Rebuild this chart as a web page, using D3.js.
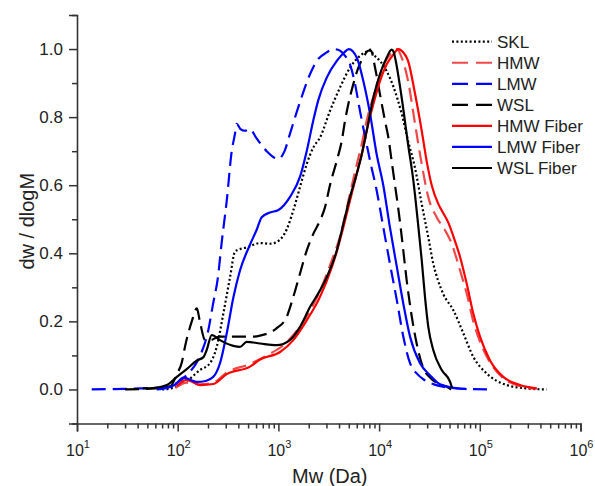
<!DOCTYPE html>
<html>
<head>
<meta charset="utf-8">
<script src="https://cdn.jsdelivr.net/npm/d3@7"></script>
<style>
  body { margin: 0; background: #fff; }
  #chart { width: 595px; height: 486px; }
  svg { display: block; }
</style>
</head>
<body>
<div id="chart"></div>
<script>
// Series names, in legend order
const seriesNames = ['SKL', 'HMW', 'LMW', 'WSL', 'HMW Fiber', 'LMW Fiber', 'WSL Fiber'];

// [Mw (Da), dw/dlogM]
const sklData = [
  [70, 0.0], [90, 0.005], [105, 0.013], [130, 0.03], [166, 0.057], [209, 0.077], [244, 0.125],
  [284, 0.223], [331, 0.33], [371, 0.405], [420, 0.413], [484, 0.417], [657, 0.43], [826, 0.428],
  [962, 0.433], [1208, 0.47], [1406, 0.526], [1637, 0.594], [1910, 0.662], [2222, 0.711],
  [2590, 0.74], [3250, 0.818], [4090, 0.887], [5140, 0.945], [6460, 0.98], [7530, 0.993],
  [8200, 0.998], [8760, 0.985], [10200, 0.965], [11900, 0.935], [13840, 0.89], [16760, 0.81],
  [19400, 0.73], [22750, 0.65], [26500, 0.545], [30800, 0.447], [34500, 0.37], [38500, 0.32],
  [43400, 0.28], [54600, 0.233], [68600, 0.165], [86200, 0.096], [117000, 0.047],
  [185000, 0.013], [292000, 0.003], [461000, 0.0]
];

const hmwData = [
  [95, 0.005], [123, 0.02], [166, 0.015], [226, 0.02], [307, 0.05], [522, 0.075], [765, 0.1],
  [1120, 0.13], [1406, 0.16], [1910, 0.215], [2590, 0.29], [3400, 0.38], [4100, 0.45],
  [5140, 0.575], [5990, 0.66], [6720, 0.72], [7530, 0.79], [8760, 0.86], [10200, 0.925],
  [11900, 0.97], [13840, 0.993], [15000, 1.0], [16760, 0.975], [19400, 0.906], [22750, 0.78],
  [26500, 0.662], [30800, 0.565], [37300, 0.506], [45300, 0.467], [52600, 0.428], [58000, 0.39],
  [63600, 0.35], [74100, 0.282], [86200, 0.2], [100500, 0.14], [126000, 0.08], [171000, 0.033],
  [250000, 0.01], [367000, 0.002]
];

const lmwData = [
  [14, 0.0], [30, 0.002], [50, 0.004], [80, 0.008], [105, 0.025], [130, 0.05], [155, 0.08],
  [173, 0.11], [200, 0.17], [224, 0.25], [251, 0.33], [273, 0.43], [307, 0.555], [344, 0.7],
  [370, 0.75], [385, 0.78], [420, 0.765], [466, 0.76], [522, 0.765], [600, 0.74], [765, 0.7],
  [1000, 0.677], [1150, 0.7], [1300, 0.75], [1640, 0.845], [2060, 0.926], [2400, 0.965],
  [3020, 0.99], [3500, 1.0], [4100, 0.995], [4600, 0.98], [5140, 0.955], [5770, 0.897],
  [6460, 0.818], [7530, 0.72], [8130, 0.672], [9470, 0.584], [11000, 0.477], [12800, 0.37],
  [15000, 0.262], [17400, 0.155], [20300, 0.077], [24000, 0.045], [27500, 0.03], [35000, 0.015],
  [43000, 0.008], [70000, 0.002], [136000, 0.0]
];

const wslData = [
  [30, 0.0], [60, 0.003], [85, 0.01], [98, 0.045], [110, 0.08], [118, 0.125], [138, 0.2],
  [155, 0.238], [166, 0.2], [187, 0.145], [210, 0.145], [260, 0.155], [331, 0.155], [560, 0.155],
  [657, 0.158], [962, 0.18], [1208, 0.213], [1406, 0.272], [1637, 0.34], [1910, 0.408],
  [2222, 0.457], [2590, 0.496], [2900, 0.535], [3250, 0.6], [3800, 0.672], [4255, 0.73],
  [4585, 0.789], [4945, 0.838], [5545, 0.897], [6210, 0.945], [6970, 0.975], [7815, 0.995],
  [8300, 0.995], [9120, 0.945], [10200, 0.867], [11450, 0.789], [12360, 0.74], [13340, 0.67],
  [14390, 0.6], [15530, 0.53], [16760, 0.45], [18800, 0.32], [21080, 0.215], [23600, 0.135],
  [27500, 0.062], [32000, 0.035], [40000, 0.015], [46900, 0.008], [52000, 0.0]
];

const hmwFiberData = [
  [98, 0.01], [123, 0.028], [145, 0.02], [166, 0.013], [226, 0.016], [307, 0.045], [522, 0.067],
  [657, 0.088], [1040, 0.11], [1406, 0.145], [1910, 0.203], [2590, 0.272], [3400, 0.36],
  [3800, 0.405], [4420, 0.477], [5140, 0.555], [5990, 0.633], [6720, 0.69], [7530, 0.76],
  [8760, 0.838], [10200, 0.906], [11900, 0.955], [13840, 0.984], [15500, 1.0], [17400, 0.99],
  [19400, 0.965], [22700, 0.87], [26500, 0.76], [29700, 0.67], [33300, 0.6], [38700, 0.545],
  [44000, 0.515], [48700, 0.49], [54600, 0.45], [63600, 0.39], [74100, 0.311], [86200, 0.223],
  [100500, 0.155], [126000, 0.086], [171000, 0.037], [250000, 0.013], [367000, 0.003]
];

const lmwFiberData = [
  [62, 0.0], [80, 0.005], [95, 0.015], [114, 0.035], [130, 0.03], [155, 0.022], [190, 0.025],
  [226, 0.037], [263, 0.077], [307, 0.165], [357, 0.27], [416, 0.35], [522, 0.425], [610, 0.47],
  [683, 0.506], [826, 0.52], [1000, 0.527], [1300, 0.565], [1640, 0.625], [1910, 0.7],
  [2220, 0.79], [2490, 0.85], [3020, 0.916], [3800, 0.965], [4500, 0.99], [5000, 1.0],
  [6000, 0.975], [6970, 0.906], [8130, 0.81], [9470, 0.69], [11000, 0.6], [12800, 0.477],
  [15000, 0.36], [17400, 0.252], [20300, 0.155], [25500, 0.077], [32000, 0.042], [40300, 0.015],
  [55000, 0.005], [74000, 0.001]
];

const wslFiberData = [
  [45, 0.003], [60, 0.005], [78, 0.013], [98, 0.037], [123, 0.06], [155, 0.085], [180, 0.095],
  [194, 0.116], [218, 0.16], [263, 0.145], [357, 0.128], [416, 0.125], [484, 0.14], [657, 0.135],
  [962, 0.13], [1300, 0.145], [1640, 0.184], [2060, 0.242], [2590, 0.291], [3020, 0.33],
  [3800, 0.408], [4420, 0.487], [5140, 0.565], [5990, 0.633], [6720, 0.69], [7530, 0.76],
  [8760, 0.857], [10200, 0.926], [11900, 0.975], [13300, 0.998], [14000, 0.99], [14400, 0.975],
  [16760, 0.857], [19400, 0.72], [21900, 0.613], [24500, 0.48], [26500, 0.38], [28600, 0.27],
  [30800, 0.184], [34500, 0.116], [41900, 0.057], [50600, 0.023], [53000, 0.005]
];

const seriesData = [sklData, hmwData, lmwData, wslData, hmwFiberData, lmwFiberData, wslFiberData];

// Axis ticks
const xTickExponents = [1, 2, 3, 4, 5, 6];
const yTickValues = [0, 0.2, 0.4, 0.6, 0.8, 1.0];
const yMinorValues = [-0.1, 0.1, 0.3, 0.5, 0.7, 0.9, 1.1];

const FONT = '"Liberation Sans", Arial, sans-serif';

const lineStyles = {
  'SKL':       { color: '#000000', dash: '2,2.4' },
  'HMW':       { color: '#f04848', dash: '14,7' },
  'LMW':       { color: '#0000ff', dash: '14,7' },
  'WSL':       { color: '#000000', dash: '14,7' },
  'HMW Fiber': { color: '#ff0000', dash: null },
  'LMW Fiber': { color: '#0000ff', dash: null },
  'WSL Fiber': { color: '#000000', dash: null }
};

function drawChart(containerId) {
  const container = document.getElementById(containerId);
  const totalW = 595, totalH = 486;
  const margin = { top: 15, right: 14.5, bottom: 62.5, left: 77 };
  const W = totalW - margin.left - margin.right;
  const H = totalH - margin.top - margin.bottom;

  const svg = d3.select(container).append('svg')
    .attr('width', totalW).attr('height', totalH);
  const g = svg.append('g').attr('transform', `translate(${margin.left},${margin.top})`);

  const x = d3.scaleLog().domain([10, 1e6]).range([0, W]);
  const y = d3.scaleLinear().domain([-0.1, 1.1]).range([H, 0]);

  // Curves
  const line = d3.line()
    .x(d => x(d[0])).y(d => y(d[1]))
    .curve(d3.curveMonotoneX);

  seriesNames.forEach((name, i) => {
    const st = lineStyles[name];
    g.append('path').datum(seriesData[i])
      .attr('fill', 'none')
      .attr('stroke', st.color)
      .attr('stroke-width', 2.2)
      .attr('stroke-dasharray', st.dash)
      .attr('stroke-linejoin', 'round')
      .attr('d', line);
  });

  const axisColor = '#333';

  // Y axis: major + minor
  g.append('g')
    .call(d3.axisLeft(y).tickValues(yMinorValues).tickSize(5).tickFormat(''))
    .call(ax => ax.select('.domain').remove())
    .call(ax => ax.selectAll('line').attr('stroke', axisColor).attr('stroke-width', 1.5));
  g.append('g')
    .call(d3.axisLeft(y).tickValues(yTickValues).tickSize(8).tickPadding(6).tickFormat(d3.format('.1f')))
    .call(ax => ax.select('.domain').attr('stroke', axisColor).attr('stroke-width', 1.6))
    .call(ax => ax.selectAll('line').attr('stroke', axisColor).attr('stroke-width', 1.5))
    .call(ax => ax.selectAll('text').attr('fill', '#222').attr('font-size', 17).attr('font-family', FONT));

  // X axis: decades + minor log ticks
  const minorX = [];
  xTickExponents.slice(0, -1).forEach(e => {
    for (let m = 2; m <= 9; m++) minorX.push(m * Math.pow(10, e));
  });
  const xAxisG = g.append('g').attr('transform', `translate(0,${H})`);
  xAxisG.append('g')
    .call(d3.axisBottom(x).tickValues(minorX).tickSize(5).tickFormat(''))
    .call(ax => ax.select('.domain').remove())
    .call(ax => ax.selectAll('line').attr('stroke', axisColor).attr('stroke-width', 1.5));
  xAxisG.append('g')
    .call(d3.axisBottom(x).tickValues(xTickExponents.map(e => Math.pow(10, e))).tickSize(8).tickFormat(''))
    .call(ax => ax.select('.domain').attr('stroke', axisColor).attr('stroke-width', 1.6))
    .call(ax => ax.selectAll('line').attr('stroke', axisColor).attr('stroke-width', 1.5));

  xTickExponents.forEach(e => {
    const t = xAxisG.append('text')
      .attr('x', x(Math.pow(10, e)) + 1)
      .attr('y', 32.5)
      .attr('text-anchor', 'middle')
      .attr('font-family', FONT).attr('font-size', 16).attr('fill', '#222');
    t.append('tspan').text('10');
    t.append('tspan').attr('dy', -8).attr('font-size', 11).text(e);
  });

  // Axis titles
  g.append('text')
    .attr('x', W / 2 + 1).attr('y', H + 59)
    .attr('text-anchor', 'middle')
    .attr('font-family', FONT).attr('font-size', 20).attr('fill', '#222')
    .text('Mw (Da)');
  g.append('text')
    .attr('transform', 'rotate(-90)')
    .attr('x', -(H / 2 + 2)).attr('y', -43)
    .attr('text-anchor', 'middle')
    .attr('font-family', FONT).attr('font-size', 20).attr('fill', '#222')
    .text('dw / dlogM');

  // Legend
  const legend = svg.append('g').attr('transform', 'translate(452,41.7)');
  seriesNames.forEach((name, i) => {
    const st = lineStyles[name];
    const row = legend.append('g').attr('transform', `translate(0,${i * 21.05})`);
    row.append('line')
      .attr('x1', 0).attr('x2', 40).attr('y1', 0).attr('y2', 0)
      .attr('stroke', st.color).attr('stroke-width', 2.2)
      .attr('stroke-dasharray', st.dash ? (name === 'SKL' ? st.dash : '16,8') : null);
    row.append('text')
      .attr('x', 45).attr('y', 6)
      .attr('font-family', FONT).attr('font-size', 17).attr('fill', '#222')
      .text(name);
  });
}

drawChart('chart');
</script>
</body>
</html>
